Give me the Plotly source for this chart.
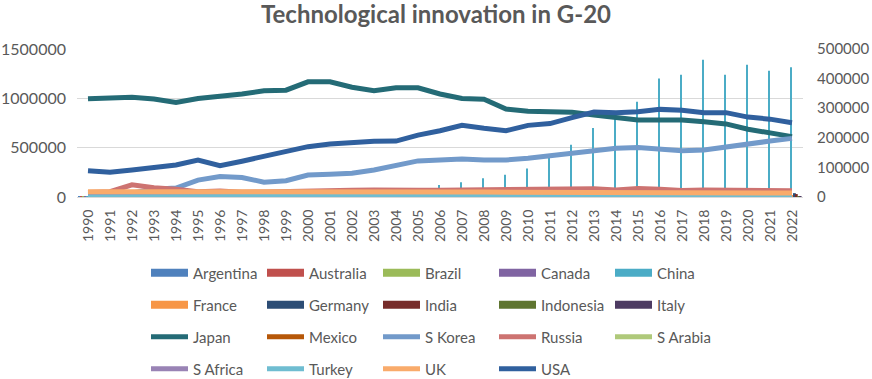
import plotly.graph_objects as go

years = [str(y) for y in range(1990, 2023)]

# ---- bar series (primary axis) ----
argentina = [700, 750, 800, 800, 850, 900, 900, 950, 950, 1000, 1000, 950, 900, 850, 850, 900, 900, 950, 900, 850, 800, 750, 700, 650, 600, 600, 550, 500, 500, 500, 450, 450, 450]
australia = [8000, 8000, 8500, 8500, 9000, 9000, 9500, 9500, 9000, 9000, 9000, 9500, 9500, 9500, 9500, 9500, 9000, 8500, 8000, 7500, 7000, 6500, 6500, 6000, 5500, 5500, 5000, 5000, 4500, 4500, 4500, 4000, 4000]
brazil = [2500, 2500, 2600, 2700, 2800, 2700, 2700, 2800, 3000, 3100, 3200, 3400, 3500, 3800, 3900, 4000, 4000, 4100, 4200, 4300, 4200, 4700, 4800, 4900, 4700, 4600, 5200, 5400, 5000, 5400, 5300, 5200, 5100]
canada = [3000, 3100, 3200, 3300, 3400, 3600, 3700, 3800, 4000, 4100, 4200, 4400, 4600, 4800, 5000, 5200, 5300, 5500, 5500, 5100, 4800, 4800, 4700, 4600, 4300, 4300, 4100, 4000, 4200, 4100, 4100, 4500, 4500]
china = [6000, 7000, 9000, 10000, 10000, 11000, 12000, 13000, 14000, 16000, 26000, 30000, 40000, 56000, 66000, 90000, 122000, 150000, 190000, 225000, 290000, 395000, 530000, 700000, 795000, 965000, 1200000, 1240000, 1390000, 1240000, 1340000, 1280000, 1315000]
france = [12500, 12500, 12600, 12700, 12800, 12900, 13000, 13300, 13800, 14000, 14000, 14200, 14500, 14300, 14300, 14500, 14700, 14700, 14700, 14300, 14700, 14600, 14700, 14700, 14500, 14300, 14200, 14400, 14300, 14100, 13500, 13200, 13300]
germany = [30000, 30000, 31000, 32000, 34000, 37000, 38000, 41000, 43000, 45000, 48000, 50000, 50000, 49000, 48000, 48000, 48000, 47000, 49000, 47000, 47000, 46000, 46000, 47000, 48000, 47000, 48000, 47000, 46000, 46000, 42000, 40000, 39000]
india = [1000, 1000, 1100, 1200, 1300, 1500, 1600, 1800, 1900, 2200, 2200, 2400, 2700, 3200, 3600, 4500, 5700, 6300, 6400, 7300, 8800, 8900, 9600, 10600, 12000, 12600, 13200, 14000, 16000, 19500, 23000, 26000, 29900]
indonesia = [40, 50, 60, 70, 80, 90, 100, 110, 120, 130, 150, 200, 250, 300, 350, 400, 450, 500, 550, 600, 650, 700, 800, 900, 1000, 1100, 1300, 1500, 1600, 1700, 1800, 1900, 2000]
italy = [1500, 1600, 1700, 1800, 2000, 2200, 2400, 2600, 2900, 3200, 3500, 3800, 4000, 4200, 4500, 4800, 5000, 5200, 5500, 5800, 6000, 6300, 6500, 6800, 7000, 7300, 7600, 7900, 8200, 8400, 8600, 8800, 9000]

# ---- line series (secondary axis) ----
japan = [332000, 335000, 337000, 331000, 319000, 333000, 339000, 348000, 359000, 361000, 389000, 389000, 371000, 359000, 369000, 369000, 348000, 333000, 330000, 297000, 290000, 288000, 286000, 277000, 269000, 260000, 260000, 260000, 254000, 247000, 229000, 215000, 204000]
mexico = [660, 560, 570, 550, 500, 430, 390, 420, 450, 460, 430, 530, 530, 470, 570, 580, 570, 640, 680, 820, 950, 1070, 1290, 1210, 1250, 1360, 1310, 1330, 1550, 1300, 1200, 1270, 1300]
s_korea = [9000, 11000, 14000, 26000, 30000, 57000, 69000, 66000, 50000, 55000, 74000, 77000, 80000, 91000, 106000, 122000, 125000, 128000, 125000, 125000, 131000, 140000, 150000, 159000, 165000, 167000, 162000, 156000, 159000, 170000, 179000, 189000, 198000]
russia = [15000, 18000, 41000, 31000, 26000, 18000, 20000, 16000, 17000, 19000, 23000, 24000, 23000, 24000, 22000, 23000, 23000, 24000, 27000, 25000, 28000, 26000, 28000, 28000, 24000, 29000, 26000, 22000, 24000, 23000, 23000, 22000, 21000]
s_arabia = [40, 50, 60, 60, 70, 80, 80, 90, 100, 100, 100, 120, 130, 140, 150, 170, 190, 210, 230, 250, 290, 340, 370, 400, 450, 500, 560, 650, 770, 900, 1000, 1100, 1200]
s_africa = [5000, 5000, 4800, 4700, 4500, 4200, 4000, 3800, 3500, 3200, 3000, 2800, 2500, 2300, 2000, 1800, 1700, 1600, 1500, 1400, 1300, 1200, 1100, 1000, 900, 900, 800, 800, 800, 800, 750, 700, 700]
turkey = [200, 200, 200, 200, 250, 250, 250, 300, 300, 350, 400, 450, 500, 600, 800, 900, 1100, 1800, 2300, 2500, 3200, 3900, 4400, 4500, 4800, 5300, 6000, 7000, 7000, 7000, 7700, 8000, 8000]
uk = [18000, 18000, 18500, 18500, 18500, 19000, 19500, 20000, 20500, 21000, 21000, 21000, 20500, 20000, 20000, 19500, 18000, 17000, 16500, 16000, 16000, 15500, 15500, 15000, 15000, 14500, 14500, 14000, 14000, 13500, 13500, 13500, 13500]
usa = [89000, 84000, 91000, 100000, 108000, 125000, 106000, 121000, 136000, 153000, 170000, 179000, 185000, 188000, 189000, 209000, 224000, 242000, 232000, 224000, 242000, 248000, 268000, 287000, 285000, 288000, 296000, 293000, 285000, 285000, 270000, 263000, 251000]

left_ticks = [0, 500000, 1000000, 1500000]
right_ticks = [0, 100000, 200000, 300000, 400000, 500000]

bar_series = [
    ("Argentina", argentina, "#4F81BD"),
    ("Australia", australia, "#C0504D"),
    ("Brazil", brazil, "#9BBB59"),
    ("Canada", canada, "#8064A2"),
    ("China", china, "#4BACC6"),
    ("France", france, "#F79646"),
    ("Germany", germany, "#2C4D75"),
    ("India", india, "#772C2A"),
    ("Indonesia", indonesia, "#5F7530"),
    ("Italy", italy, "#4D3B62"),
]
line_series = [
    ("Japan", japan, "#246B76"),
    ("Mexico", mexico, "#B65708"),
    ("S Korea", s_korea, "#729ACA"),
    ("Russia", russia, "#CD7371"),
    ("S Arabia", s_arabia, "#AFC97A"),
    ("S Africa", s_africa, "#9983B5"),
    ("Turkey", turkey, "#6FBDD1"),
    ("UK", uk, "#F9AB6B"),
    ("USA", usa, "#30609E"),
]

FONT = "Lato"
GREY = "#595959"

legend_of = {}
names = [s[0] for s in bar_series] + [s[0] for s in line_series]
for i, n in enumerate(names):
    row = i // 5
    legend_of[n] = "legend" if row == 0 else "legend%d" % (row + 1)

fig = go.Figure()
for name, vals, col in bar_series:
    fig.add_trace(go.Bar(x=years, y=vals, name=name, marker=dict(color=col, line=dict(width=0)),
                         showlegend=False, legendgroup=name, yaxis="y"))
# legend proxies so bar entries show as wide rectangles like the original
for name, vals, col in bar_series:
    fig.add_trace(go.Scatter(x=[None], y=[None], mode="lines", name=name, legendgroup=name,
                             line=dict(color=col, width=8), legend=legend_of[name], yaxis="y"))
for name, vals, col in line_series:
    fig.add_trace(go.Scatter(x=years, y=vals, name=name, mode="lines", legendgroup=name,
                             line=dict(color=col, width=5), legend=legend_of[name], yaxis="y2"))

W, H = 872, 379
ML, MR, MT, MB = 77, 69, 49, 182

row_px = [273, 305, 337, 369]
leg_common = dict(orientation="h", xref="container", yref="container", x=146 / W, xanchor="left",
                  yanchor="middle", entrywidth=64, entrywidthmode="pixels", itemwidth=37,
                  font=dict(family=FONT, size=15, color=GREY), bgcolor="rgba(0,0,0,0)",
                  tracegroupgap=0, itemclick=False, itemdoubleclick=False)

layout_legends = {}
for k, ypx in enumerate(row_px):
    key = "legend" if k == 0 else "legend%d" % (k + 1)
    layout_legends[key] = dict(leg_common, y=1 - ypx / H)

fig.update_layout(
    width=W, height=H,
    margin=dict(l=ML, r=MR, t=MT, b=MB, pad=0, autoexpand=False),
    paper_bgcolor="white", plot_bgcolor="white",
    barmode="group", bargap=0.13, bargroupgap=0,
    title=dict(text="<b>Technological innovation in G-20</b>", x=0.5, xanchor="center",
               xref="container", yref="container", y=1 - 15 / H, yanchor="middle",
               font=dict(family=FONT, size=24, color=GREY)),
    font=dict(family=FONT, color=GREY),
    xaxis=dict(type="category", tickangle=-90, showgrid=False, showline=True, automargin=False,
               linecolor="#D9D9D9", linewidth=1, ticks="", tickfont=dict(size=14, color=GREY),
               ticklabelstandoff=6, zeroline=False),
    yaxis=dict(range=[0, 1500000], tickvals=left_ticks, tickformat="d", showgrid=True, automargin=False,
               gridcolor="#D9D9D9", gridwidth=1, zeroline=False, showline=False,
               tickfont=dict(size=16, color=GREY), ticklabelstandoff=10),
    yaxis2=dict(range=[0, 500000], tickvals=right_ticks, tickformat="d", overlaying="y", automargin=False,
                side="right", showgrid=False, zeroline=False, showline=False,
                tickfont=dict(size=15, color=GREY), ticklabelstandoff=13),
    hovermode=False,
    **layout_legends,
)

fig.write_html("out.html", config={"displayModeBar": False},
               post_script="document.body.style.margin='0';document.body.style.overflow='hidden';")
